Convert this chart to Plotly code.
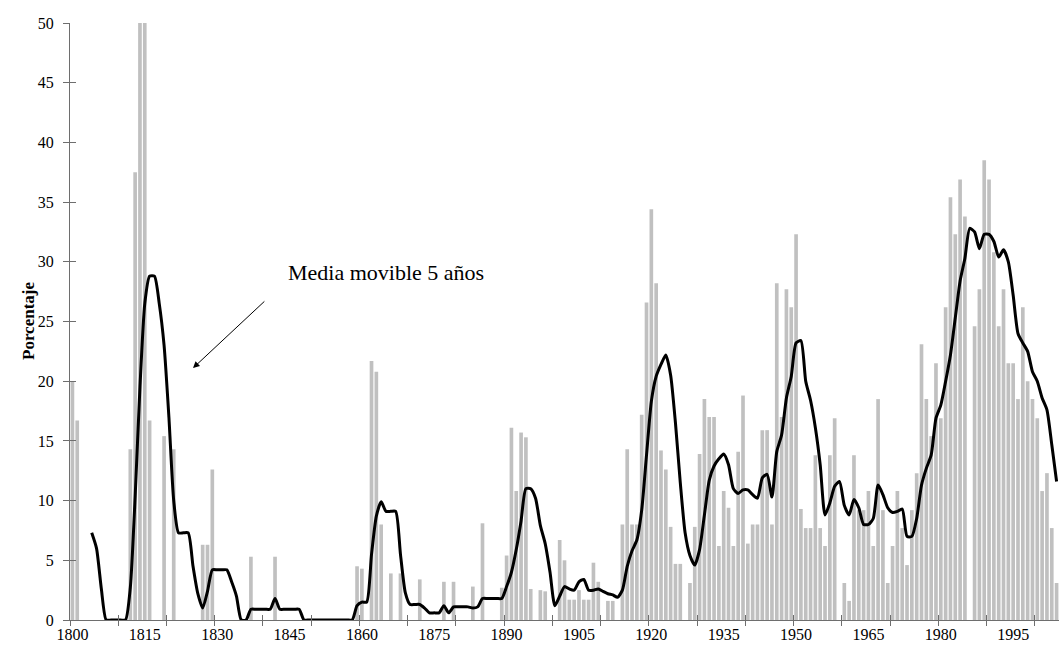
import plotly.graph_objects as go

# ---------------- data ----------------
years = list(range(1800, 2005))

# yearly percentage (bars), one list per decade
pct_1800s = [20.0, 16.7, 0, 0, 0, 0, 0, 0, 0, 0]
pct_1810s = [0, 0, 14.3, 37.5, 50, 50, 16.7, 0, 0, 15.4]
pct_1820s = [0, 14.3, 0, 0, 0, 0, 0, 6.3, 6.3, 12.6]
pct_1830s = [0, 0, 0, 0, 0, 0, 0, 5.3, 0, 0]
pct_1840s = [0, 0, 5.3, 0, 0, 0, 0, 0, 0, 0]
pct_1850s = [0, 0, 0, 0, 0, 0, 0, 0, 0, 4.5]
pct_1860s = [4.3, 0, 21.7, 20.8, 8.0, 0, 3.9, 0, 3.9, 0]
pct_1870s = [0, 0, 3.4, 0, 0, 0, 0, 3.2, 0, 3.2]
pct_1880s = [0, 0, 0, 2.8, 0, 8.1, 0, 0, 0, 2.7]
pct_1890s = [5.4, 16.1, 10.8, 15.7, 15.3, 2.6, 0, 2.5, 2.4, 0]
pct_1900s = [0, 6.7, 5.0, 1.7, 1.7, 2.5, 1.7, 1.7, 4.8, 3.2]
pct_1910s = [0, 1.6, 1.6, 0, 8.0, 14.3, 8.0, 8.0, 17.2, 26.6]
pct_1920s = [34.4, 28.2, 14.2, 12.6, 7.8, 4.7, 4.7, 0, 3.1, 7.8]
pct_1930s = [13.9, 18.5, 17.0, 17.0, 6.2, 10.8, 9.4, 6.2, 14.1, 18.8]
pct_1940s = [6.4, 8.0, 8.0, 15.9, 15.9, 8.0, 28.2, 17.0, 27.7, 26.2]
pct_1950s = [32.3, 9.3, 7.7, 7.7, 13.8, 7.7, 6.2, 13.8, 16.9, 0]
pct_1960s = [3.1, 1.6, 13.8, 9.2, 9.2, 10.8, 6.2, 18.5, 9.2, 3.1]
pct_1970s = [6.2, 10.8, 7.7, 4.6, 9.2, 12.3, 23.1, 18.5, 15.4, 21.5]
pct_1980s = [16.9, 26.2, 35.4, 32.3, 36.9, 33.8, 0, 24.6, 27.7, 38.5]
pct_1990s = [36.9, 30.8, 24.6, 27.7, 21.5, 21.5, 18.5, 26.2, 20.0, 18.5]
pct_2000s = [16.9, 10.8, 12.3, 7.7, 3.1]

# 5-year moving average (line), one list per decade
ma_1800s = [None, None, None, None, 7.3, 6.0, 2.6, 0, 0, 0]
ma_1810s = [0, 0, 2.7, 10.3, 19.5, 26.5, 28.8, 28.8, 26.5, 23.0]
ma_1820s = [17.0, 10.0, 7.3, 7.3, 7.3, 4.5, 2.2, 1.0, 2.4, 4.2]
ma_1830s = [4.2, 4.2, 4.2, 3.2, 2.0, 0, 0, 0.9, 0.9, 0.9]
ma_1840s = [0.9, 0.9, 1.8, 0.9, 0.9, 0.9, 0.9, 0.9, 0, 0]
ma_1850s = [0, 0, 0, 0, 0, 0, 0, 0, 0, 1.2]
ma_1860s = [1.5, 1.5, 5.5, 8.7, 9.9, 9.1, 9.1, 9.1, 5.5, 2.3]
ma_1870s = [1.3, 1.3, 1.3, 1.0, 0.6, 0.6, 0.6, 1.2, 0.6, 1.1]
ma_1880s = [1.1, 1.1, 1.1, 1.0, 1.1, 1.8, 1.8, 1.8, 1.8, 1.8]
ma_1890s = [2.8, 4.0, 5.9, 8.3, 11.0, 11.0, 10.2, 7.9, 6.4, 4.0]
ma_1900s = [1.2, 2.0, 2.8, 2.6, 2.5, 3.2, 3.4, 2.5, 2.5, 2.6]
ma_1910s = [2.4, 2.2, 2.1, 1.9, 2.5, 4.5, 5.8, 6.7, 9.2, 13.8]
ma_1920s = [18.3, 20.4, 21.4, 22.2, 20.5, 16.5, 11.5, 7.3, 5.4, 4.6]
ma_1930s = [5.9, 8.8, 11.7, 12.9, 13.5, 13.9, 13.0, 11.0, 10.6, 10.9]
ma_1940s = [10.9, 10.5, 10.2, 11.9, 12.2, 10.3, 14.1, 15.5, 18.6, 20.4]
ma_1950s = [23.2, 23.4, 20.0, 18.4, 16.1, 13.0, 8.8, 9.8, 11.2, 11.6]
ma_1960s = [9.6, 8.8, 10.1, 9.4, 8.0, 8.0, 8.5, 11.3, 10.5, 9.4]
ma_1970s = [9.0, 9.1, 9.3, 7.0, 7.0, 8.5, 11.3, 12.7, 13.8, 16.9]
ma_1980s = [18.0, 20.0, 22.2, 25.3, 28.4, 30.3, 32.8, 32.5, 31.1, 32.3]
ma_1990s = [32.3, 31.7, 30.4, 31.0, 30.0, 27.2, 24.0, 23.2, 22.5, 20.8]
ma_2000s = [20.0, 18.6, 17.6, 14.7, 11.6]

x_label_years = list(range(1800, 2005, 15))
x_tick_bounds = [y - 0.5 for y in range(1800, 2005, 10)]
y_ticks = list(range(0, 55, 5))

annot_text = "Media movible 5 años"
y_title = "Porcentaje"

# ---------------- assemble ----------------
porcentaje = (pct_1800s + pct_1810s + pct_1820s + pct_1830s + pct_1840s + pct_1850s +
              pct_1860s + pct_1870s + pct_1880s + pct_1890s + pct_1900s + pct_1910s +
              pct_1920s + pct_1930s + pct_1940s + pct_1950s + pct_1960s + pct_1970s +
              pct_1980s + pct_1990s + pct_2000s)
media = (ma_1800s + ma_1810s + ma_1820s + ma_1830s + ma_1840s + ma_1850s +
         ma_1860s + ma_1870s + ma_1880s + ma_1890s + ma_1900s + ma_1910s +
         ma_1920s + ma_1930s + ma_1940s + ma_1950s + ma_1960s + ma_1970s +
         ma_1980s + ma_1990s + ma_2000s)

SERIF = "Liberation Serif, Times New Roman, serif"
AXCOL = "#6e6e6e"
XR = [1799.5, 2004.5]
YR = [0, 50]

fig = go.Figure()
fig.add_trace(go.Bar(x=years, y=porcentaje, marker=dict(color="#c0c0c0", line=dict(width=0)),
                     xaxis="x", yaxis="y", showlegend=False, hoverinfo="skip"))
fig.add_trace(go.Scatter(x=years, y=media, mode="lines",
                         line=dict(color="black", width=3, shape="spline", smoothing=0.6),
                         connectgaps=False, xaxis="x2", yaxis="y2", showlegend=False,
                         hoverinfo="skip"))

fig.update_layout(
    width=1059, height=645, autosize=False,
    margin=dict(l=70, r=0, t=23, b=25),
    paper_bgcolor="white", plot_bgcolor="white",
    bargap=0.24,
    font=dict(family=SERIF, color="black"),
    xaxis=dict(range=XR, tickmode="array", tickvals=x_label_years,
               ticktext=[str(v) for v in x_label_years], ticks="",
               showline=True, linecolor=AXCOL, linewidth=1, showgrid=False, zeroline=False,
               tickfont=dict(family=SERIF, size=16, color="black"),
               minor=dict(tickmode="array", tickvals=x_tick_bounds, ticks="outside",
                          ticklen=5, tickcolor=AXCOL, tickwidth=1, showgrid=False)),
    xaxis2=dict(range=XR, overlaying="x", tickmode="array", tickvals=x_tick_bounds,
                ticks="inside", ticklen=5, tickcolor=AXCOL, tickwidth=1,
                showticklabels=False, showline=False, showgrid=False, zeroline=False,
                side="bottom", anchor="y2"),
    yaxis=dict(range=YR, tickmode="array", tickvals=y_ticks, ticks="outside", ticklen=6,
               tickcolor=AXCOL, tickwidth=1, showline=True, linecolor=AXCOL, linewidth=1,
               showgrid=False, zeroline=False, ticklabelstandoff=6,
               tickfont=dict(family=SERIF, size=16, color="black")),
    yaxis2=dict(range=YR, overlaying="y", tickmode="array", tickvals=y_ticks,
                ticks="inside", ticklen=6, tickcolor=AXCOL, tickwidth=1,
                showticklabels=False, showline=False, showgrid=False, zeroline=False,
                side="left", anchor="x2"),
)

fig.add_annotation(text=annot_text, x=1864.9, y=29.1, xref="x", yref="y",
                   showarrow=False, font=dict(family=SERIF, size=22, color="black"))
fig.add_annotation(text="", x=1825.0, y=21.1, ax=1840.1, ay=26.8, xref="x", yref="y",
                   axref="x", ayref="y", showarrow=True, arrowhead=2, arrowsize=1.3,
                   arrowwidth=1, arrowcolor="black")
fig.add_annotation(text="<b>" + y_title + "</b>", x=-53 / 989, y=0.5, xref="paper",
                   yref="paper", textangle=-90, showarrow=False,
                   font=dict(family=SERIF, size=17, color="black"))

fig.write_html("out.html")
